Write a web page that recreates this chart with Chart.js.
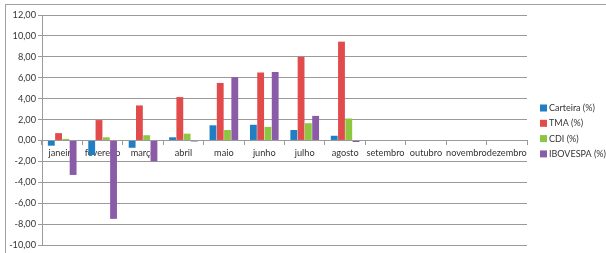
<!DOCTYPE html>
<html>
<head>
<meta charset="utf-8">
<script src="https://cdn.jsdelivr.net/npm/chart.js@4"></script>
<style>
  html, body { margin: 0; padding: 0; background: #fff; }
  #wrap { position: absolute; left: 0; top: 0; width: 606px; height: 253px; }
  #frame { position: absolute; left: 5px; top: 4px; width: 601px; height: 249px;
           border-left: 1px solid #a0a0a0; border-top: 1px solid #a0a0a0; box-sizing: border-box; }
</style>
</head>
<body>
<div id="wrap"><canvas id="c" width="606" height="253"></canvas></div>
<div id="frame"></div>
<script>
const categories = ["janeiro","fevereiro","março","abril","maio","junho","julho","agosto","setembro","outubro","novembro","dezembro"];
const carteira = [-0.5, -1.4, -0.7, 0.3, 1.45, 1.5, 1.0, 0.45, null, null, null, null];
const tma      = [0.7, 1.95, 3.35, 4.15, 5.5, 6.5, 8.0, 9.45, null, null, null, null];
const cdi      = [0.15, 0.3, 0.5, 0.65, 1.0, 1.3, 1.65, 2.1, null, null, null, null];
const ibovespa = [-3.3, -7.5, -2.0, -0.1, 6.05, 6.55, 2.35, -0.15, null, null, null, null];
const seriesNames = ["Carteira (%)", "TMA (%)", "CDI (%)", "IBOVESPA (%)"];
const yMin = -10, yMax = 12, yStep = 2;

const colors = ["#1f7ec4", "#e24b4b", "#8dc63f", "#8a5ca8"];
const FONT = "Lato";

const legendPlugin = {
  id: 'sideLegend',
  afterDraw(chart) {
    const ctx = chart.ctx;
    ctx.save();
    ctx.font = "9px " + FONT;
    ctx.textBaseline = "middle";
    ctx.textAlign = "left";
    const x0 = 540, y0 = 108, dy = 15.3;
    chart.data.datasets.forEach((ds, i) => {
      const y = y0 + i * dy;
      ctx.fillStyle = ds.backgroundColor;
      ctx.fillRect(x0, y - 3.5, 7, 7);
      ctx.fillStyle = "#333333";
      ctx.fillText(ds.label, x0 + 9, y);
    });
    ctx.restore();
  }
};

new Chart(document.getElementById('c'), {
  type: 'bar',
  data: {
    labels: categories,
    datasets: [carteira, tma, cdi, ibovespa].map((d, i) => ({
      label: seriesNames[i],
      data: d,
      backgroundColor: colors[i],
      borderWidth: 0,
      barPercentage: 0.94,
      categoryPercentage: 0.72
    }))
  },
  options: {
    responsive: false,
    animation: false,
    devicePixelRatio: 1,
    layout: { padding: { left: 6, right: 79, top: 15, bottom: 8 } },
    plugins: { legend: { display: false }, tooltip: { enabled: false } },
    scales: {
      x: {
        position: { y: 0 },
        grid: { display: true, drawOnChartArea: false, offset: true, tickLength: 4, color: '#9a9a9a' },
        border: { display: true, color: '#9a9a9a' },
        ticks: { font: { family: FONT, size: 9.2 }, color: '#333333', padding: 3, maxRotation: 0, autoSkip: false }
      },
      y: {
        min: yMin, max: yMax,
        afterFit(scale) { scale.width = 36; },
        grid: { color: '#9a9a9a', tickLength: 4 },
        border: { display: true, color: '#9a9a9a' },
        ticks: {
          stepSize: yStep,
          font: { family: FONT, size: 9.2 },
          color: '#333333',
          padding: 2,
          callback: v => v.toFixed(2).replace('.', ',')
        }
      }
    }
  },
  plugins: [legendPlugin]
});
</script>
</body>
</html>
